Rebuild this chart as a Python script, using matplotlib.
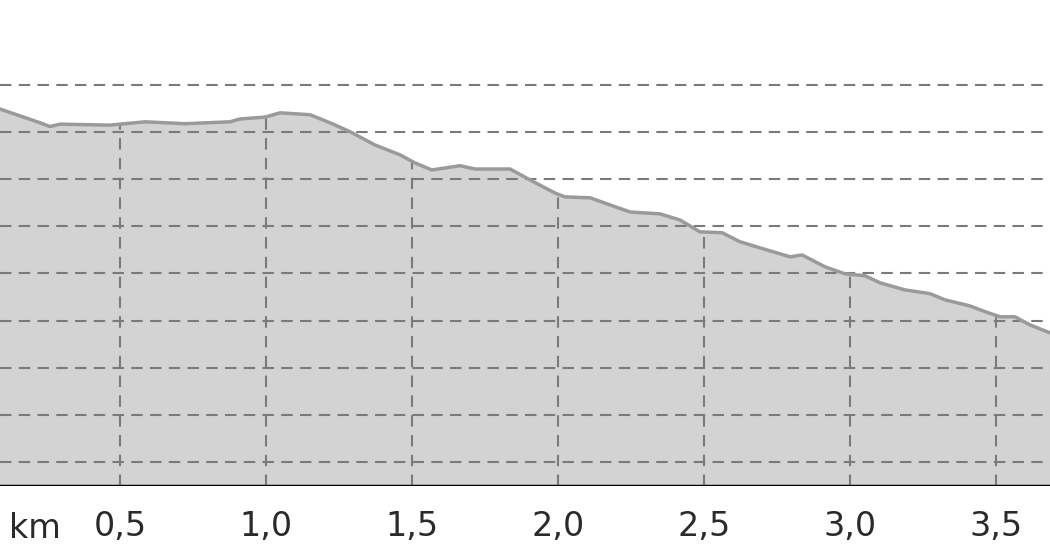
import numpy as np
import matplotlib
matplotlib.use("Agg")
import matplotlib.pyplot as plt

# profil de altitude (km, m)
dist_km = [0.089, 0.160, 0.226, 0.260, 0.295, 0.466, 0.586, 0.723, 0.877, 0.911, 0.997,
           1.048, 1.151, 1.219, 1.288, 1.373, 1.459, 1.510, 1.568, 1.664, 1.716,
           1.836, 1.904, 1.990, 2.024, 2.110, 2.178, 2.247, 2.349, 2.418, 2.486,
           2.562, 2.623, 2.692, 2.795, 2.836, 2.914, 2.983, 3.051, 3.103, 3.188,
           3.274, 3.325, 3.411, 3.462, 3.514, 3.565, 3.616, 3.685]
altitude = [274.8, 273.3, 271.9, 271.1, 271.6, 271.4, 272.1, 271.7, 272.1, 272.7, 273.1,
            274.0, 273.6, 271.9, 270.0, 267.2, 265.1, 263.4, 261.9, 262.8, 262.1,
            262.1, 259.8, 257.0, 256.2, 256.0, 254.5, 253.0, 252.6, 251.3, 248.8,
            248.6, 246.7, 245.4, 243.5, 243.9, 241.4, 239.9, 239.5, 238.0, 236.5,
            235.7, 234.4, 233.1, 231.9, 230.8, 230.8, 229.1, 227.4]

ticks_km = [0.5, 1.0, 1.5, 2.0, 2.5, 3.0, 3.5]
tick_labels = ['0,5', '1,0', '1,5', '2,0', '2,5', '3,0', '3,5']
niveis = [200, 210, 220, 230, 240, 250, 260, 270, 280]

fig = plt.figure(figsize=(10.5, 5.6), dpi=100)
ax = fig.add_axes([0, 74 / 560, 1, 486 / 560])

ymin, ymax = 194.96, 297.9
ax.set_xlim(dist_km[0], dist_km[-1])
ax.set_ylim(ymin, ymax)

ax.fill_between(dist_km, altitude, ymin, color='#d3d3d3', zorder=1, linewidth=0)

for n in niveis:
    ax.axhline(n, color='#7a7a7a', linewidth=1.5, linestyle=(0, (5.5, 3.5)), zorder=2)

for t in ticks_km:
    topo = np.interp(t, dist_km, altitude)
    ax.plot([t, t], [ymin, topo], color='#7a7a7a', linewidth=1.5,
            linestyle=(0, (5.5, 4)), zorder=2)

ax.plot(dist_km, altitude, color='#9a9a9a', linewidth=2.5, zorder=3,
        solid_joinstyle='round')
ax.axhline(ymin + 0.1, color='black', linewidth=2.5, zorder=4)

for s in ax.spines.values():
    s.set_visible(False)
ax.set_yticks([])
ax.set_xticks(ticks_km)
ax.set_xticklabels(tick_labels, fontsize=24, color='#2a2a2a')
ax.tick_params(axis='x', length=0, pad=17)
fig.text(35 / 1050, 1 - 529 / 560, 'km', fontsize=24, color='#2a2a2a',
         ha='center', va='center')

fig.savefig('out.png', dpi=100)
